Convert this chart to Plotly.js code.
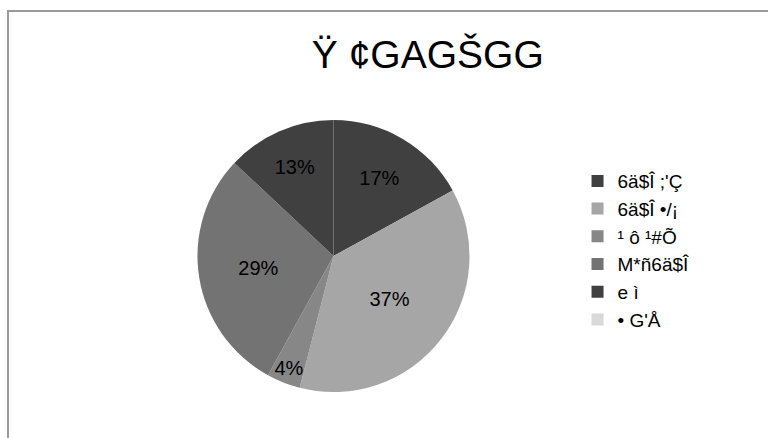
<!DOCTYPE html>
<html>
<head>
<meta charset="utf-8">
<script src="https://cdn.plot.ly/plotly-3.0.1.min.js"></script>
<style>
html, body { margin: 0; padding: 0; background: #fff; }
#chart { width: 768px; height: 438px; }
</style>
</head>
<body>
<div id="chart"></div>
<script>
const chartTitle = "Ÿ ¢GAGŠGG";
const categories = ["6ä$Î ;'Ç", "6ä$Î •/¡", "¹ ô ¹#Õ", "M*ñ6ä$Î", "e ì", "• G'Å"];
const values = [17, 37, 4, 29, 13, 0];
const sliceColors = ["#404040", "#a6a6a6", "#878787", "#737373", "#404040", "#d9d9d9"];

const trace = {
  type: "pie",
  labels: categories,
  values: values,
  sort: false,
  direction: "clockwise",
  rotation: 0,
  marker: { colors: sliceColors, line: { width: 0 } },
  texttemplate: values.map(v => v > 0 ? "%{percent:.0%}" : ""),
  textposition: "inside",
  insidetextorientation: "horizontal",
  textfont: { family: "Liberation Sans, Arial, sans-serif", size: 20, color: "#000" },
  domain: { x: [0.2565, 0.612], y: [0.105, 0.726] },
  hoverinfo: "none",
  showlegend: true
};

const layout = {
  width: 768,
  height: 438,
  margin: { l: 0, r: 0, t: 0, b: 0 },
  paper_bgcolor: "#fff",
  uniformtext: { minsize: 20, mode: "show" },
  title: {
    text: chartTitle,
    font: { family: "Liberation Sans, Arial, sans-serif", size: 39, color: "#000" },
    x: 0.557, xanchor: "center",
    y: 0.876, yanchor: "middle"
  },
  legend: {
    x: 0.752, xanchor: "left",
    y: 0.63, yanchor: "top",
    font: { family: "Liberation Sans, Arial, sans-serif", size: 19, color: "#000" },
    itemwidth: 30,
    tracegroupgap: 0
  },
  shapes: [{
    type: "rect", xref: "paper", yref: "paper",
    x0: 0.0104, x1: 1.02, y0: -0.02, y1: 0.9749,
    line: { color: "#9a9a9a", width: 2 }, fillcolor: "rgba(0,0,0,0)"
  }]
};

Plotly.newPlot("chart", [trace], layout, { displayModeBar: false, staticPlot: true });
</script>
</body>
</html>
